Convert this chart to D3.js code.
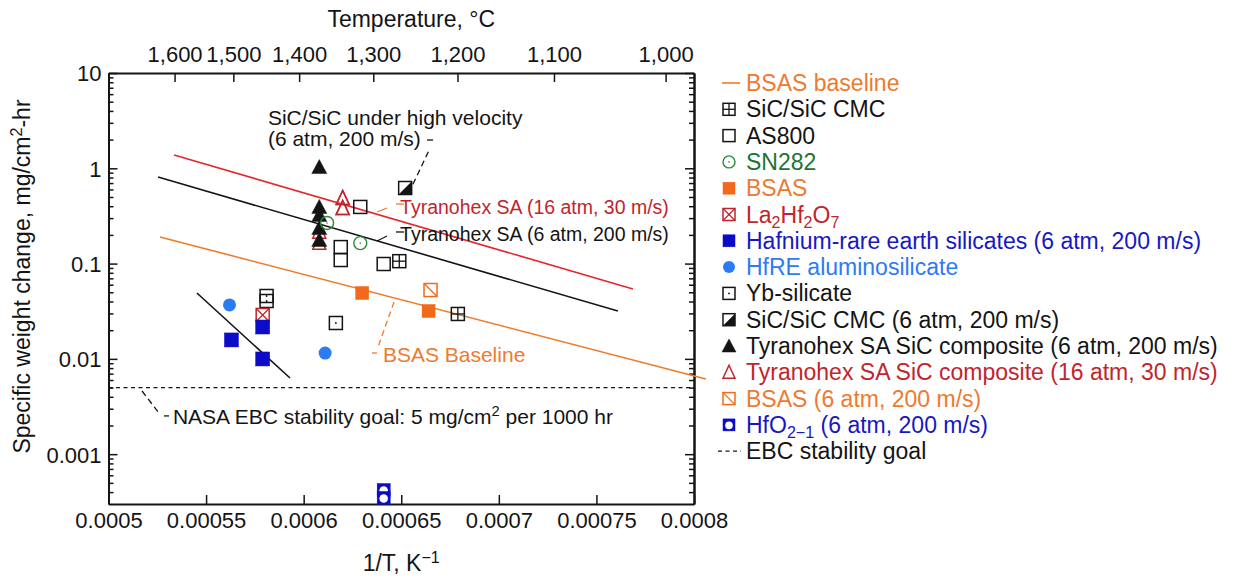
<!DOCTYPE html>
<html>
<head>
<meta charset="utf-8">
<script src="https://cdn.jsdelivr.net/npm/d3@7"></script>
<style>
  body { margin: 0; background: #fff; }
  svg { display: block; }
</style>
</head>
<body>
<svg id="chart" width="1250" height="578"></svg>
<script>
// ---------- axis ticks ----------
const xTicks = [0.0005, 0.00055, 0.0006, 0.00065, 0.0007, 0.00075, 0.0008];
const xTickLabels = ["0.0005", "0.00055", "0.0006", "0.00065", "0.0007", "0.00075", "0.0008"];
const yTicks = [10, 1, 0.1, 0.01, 0.001];
const yTickLabels = ["10", "1", "0.1", "0.01", "0.001"];
const tempTicks = [1600, 1500, 1400, 1300, 1200, 1100, 1000];
const tempTickLabels = ["1,600", "1,500", "1,400", "1,300", "1,200", "1,100", "1,000"];

// ---------- measured recession rates: [1/T (1/K), weight change (mg/cm2-hr)] ----------
const sicCmc = [[0.000649, 0.106], [0.000679, 0.0296]];
const as800 = [[0.000629, 0.393], [0.000619, 0.149], [0.000619, 0.109], [0.000641, 0.099]];
const sn282 = [[0.000612, 0.267], [0.000629, 0.164]];
const bsas = [[0.00063, 0.0491], [0.000664, 0.0318]];
const la2hf2o7 = [[0.000579, 0.0289]];
const hfReSilicates = [[0.000579, 0.0216], [0.000563, 0.0158], [0.000579, 0.00998]];
const hfReAluminosilicate = [[0.000562, 0.0368], [0.000611, 0.0115]];
const ybSilicate = [[0.000581, 0.0457], [0.000581, 0.0405], [0.0006165, 0.0238]];
const sicCmcHighVelocity = [[0.000652, 0.621]];
const tyranohex16atm = [[0.000608, 0.216], [0.000608, 0.165], [0.00062, 0.488], [0.00062, 0.383]];
const tyranohex6atm = [[0.000608, 1.03], [0.000608, 0.393], [0.000608, 0.324], [0.000608, 0.236], [0.000608, 0.177]];
const bsas6atm = [[0.000665, 0.0528]];
const hfo2 = [[0.000641, 0.00042], [0.000641, 0.000347]];

// ---------- fitted trend lines (end points) ----------
const bsasBaselineFit = [[0.0005264, 0.190], [0.0008061, 0.00615]];
const tyranohex16Fit = [[0.0005336, 1.379], [0.0007687, 0.0542]];
const tyranohex6Fit = [[0.0005254, 0.810], [0.0007610, 0.0318]];
const hfSilicateFit = [[0.0005453, 0.0491], [0.000593, 0.0063]];
const ebcGoal = 0.005;

// ---------- callouts ----------
const highVelocityText = ["SiC/SiC under high velocity", "(6 atm, 200 m/s)"];
const highVelocityAt = [[0.0005817, 2.847], [0.0005817, 1.714]];
const highVelocityLeader = [[[0.000656, 0.68], [0.0006647, 1.62]], [[0.0006632, 1.98], [0.0006663, 1.98]]];
const tyr16Label = "Tyranohex SA (16 atm, 30 m/s)";
const tyr16At = [0.0006494, 0.334];
const tyr16Leader = [[[0.0006376, 0.3477], [0.0006427, 0.383]], [[0.0006473, 0.4219], [0.0006514, 0.4219]]];
const tyr6Label = "Tyranohex SA (6 atm, 200 m/s)";
const tyr6At = [0.0006494, 0.1745];
const tyr6Leader = [[[0.0006376, 0.1726], [0.0006427, 0.1948]], [[0.0006473, 0.2146], [0.0006514, 0.2146]]];
const bsasLabel = "BSAS Baseline";
const bsasAt = [0.0006406, 0.00928];
const bsasLeader = [[[0.0006463, 0.03954], [0.0006381, 0.01334]], [[0.000635, 0.01153], [0.0006376, 0.01153]]];
const goalLabel = "NASA EBC stability goal: 5 mg/cm^{2} per 1000 hr";
const goalAt = [0.000533, 0.002075];
const goalLeader = [[[0.0005172, 0.0046], [0.0005254, 0.00277]], [[0.0005284, 0.00252], [0.000531, 0.00252]]];

// ---------- legend ----------
const legendLabels = [
  "BSAS baseline", "SiC/SiC CMC", "AS800", "SN282", "BSAS", "La_{2}Hf_{2}O_{7}",
  "Hafnium-rare earth silicates (6 atm, 200 m/s)", "HfRE aluminosilicate", "Yb-silicate",
  "SiC/SiC CMC (6 atm, 200 m/s)", "Tyranohex SA SiC composite (6 atm, 200 m/s)",
  "Tyranohex SA SiC composite (16 atm, 30 m/s)", "BSAS (6 atm, 200 m/s)",
  "HfO_{2\u22121} (6 atm, 200 m/s)", "EBC stability goal"
];
const legendSymbols = [
  "line", "plusSquare", "openSquare", "dotCircle", "bsasSquare", "xSquare",
  "blueSquare", "blueCircle", "dotSquare", "halfSquare", "filledTriangle",
  "openTriangle", "diagSquare", "hfo2", "dotted"
];

const C = {
  ink: "#141414",
  orange: "#F2691C",
  orangeText: "#EE7A2F",
  orangeLine: "#EF7B2C",
  red: "#E5262A",
  darkRed: "#C0252C",
  green: "#2A8A3C",
  greenText: "#1D7430",
  blue: "#0C0CC8",
  blueText: "#1717C4",
  skyBlue: "#2D7AF5"
};
const legendColors = [
  C.orangeText, C.ink, C.ink, C.greenText, C.orangeText, C.darkRed, C.blueText,
  C.skyBlue, C.ink, C.ink, C.ink, C.darkRed, C.orangeText, C.blueText, C.ink
];

// ---------- layout ----------
const FONT = '"Liberation Sans", Arial, Helvetica, sans-serif';
const svg = d3.select("#chart");
const x = d3.scaleLinear().domain([0.0005, 0.0008]).range([108.5, 694]);
const y = d3.scaleLog().domain([0.0003, 10]).range([504, 73]);
const [x0, x1] = x.range();
const [yB, yT] = y.range();

// minor log ticks 2..9 in each decade
const minorTicks = [];
for (let e = -4; e <= 0; e++) {
  for (let m = 2; m <= 9; m++) {
    const v = m * Math.pow(10, e);
    if (v > y.domain()[0] * 1.0001 && v < y.domain()[1]) minorTicks.push(+v.toPrecision(3));
  }
}

function styleAxis(g, fs) {
  g.attr("font-family", FONT).attr("font-size", fs);
  g.select(".domain").attr("stroke", C.ink).attr("stroke-width", 2);
  g.selectAll(".tick line").attr("stroke", C.ink).attr("stroke-width", 1.5);
  g.selectAll(".tick text").attr("fill", C.ink);
}

// bottom axis (1/T)
svg.append("g").attr("transform", `translate(0,${yB})`)
  .call(d3.axisBottom(x).tickValues(xTicks).tickFormat((d, i) => xTickLabels[i])
    .tickSize(-9).tickSizeOuter(0).tickPadding(8))
  .call(g => styleAxis(g, 22));

// top axis (temperature, deg C)
svg.append("g").attr("transform", `translate(0,${yT})`)
  .call(d3.axisTop(x).tickValues(tempTicks.map(t => 1 / (t + 273.15)))
    .tickFormat((d, i) => tempTickLabels[i]).tickSize(-9).tickSizeOuter(0).tickPadding(11))
  .call(g => styleAxis(g, 22));

// left axis
svg.append("g").attr("transform", `translate(${x0},0)`)
  .call(d3.axisLeft(y).tickValues(yTicks).tickFormat((d, i) => yTickLabels[i])
    .tickSize(-9).tickSizeOuter(0).tickPadding(7))
  .call(g => styleAxis(g, 22))
  .call(g => g.selectAll(".tick text").attr("dy", "0.36em"));
svg.append("g").attr("transform", `translate(${x0},0)`)
  .call(d3.axisLeft(y).tickValues(minorTicks).tickFormat("").tickSize(-5).tickSizeOuter(0))
  .call(g => styleAxis(g, 22));

// right axis
svg.append("g").attr("transform", `translate(${x1},0)`)
  .call(d3.axisRight(y).tickValues(yTicks).tickFormat("").tickSize(-9).tickSizeOuter(0))
  .call(g => styleAxis(g, 22));
svg.append("g").attr("transform", `translate(${x1},0)`)
  .call(d3.axisRight(y).tickValues(minorTicks).tickFormat("").tickSize(-5).tickSizeOuter(0))
  .call(g => styleAxis(g, 22));

// ---------- rich text helper (_{sub} and ^{sup}) ----------
function richText(sel, str, fs) {
  const parts = str.split(/(_\{[^}]*\}|\^\{[^}]*\})/).filter(s => s.length);
  let shift = 0;
  parts.forEach(p => {
    let size = fs, txt = p, target = 0;
    if (p.startsWith("_{")) { target = fs * 0.24; size = fs * 0.7; txt = p.slice(2, -1); }
    else if (p.startsWith("^{")) { target = -fs * 0.36; size = fs * 0.7; txt = p.slice(2, -1); }
    const dy = target - shift; shift = target;
    sel.append("tspan").attr("dy", dy).attr("font-size", size).text(txt);
  });
}

// ---------- axis titles ----------
svg.append("text").attr("x", (x0 + x1) / 2 + 10).attr("y", 27)
  .attr("text-anchor", "middle").attr("font-family", FONT).attr("font-size", 23)
  .attr("fill", C.ink).text("Temperature, \u00B0C");

svg.append("text").attr("x", (x0 + x1) / 2).attr("y", 571)
  .attr("text-anchor", "middle").attr("font-family", FONT).attr("font-size", 23)
  .attr("fill", C.ink).call(t => richText(t, "1/T, K^{\u22121}", 23));

svg.append("text").attr("transform", `translate(30,${(yT + yB) / 2 - 12}) rotate(-90)`)
  .attr("text-anchor", "middle").attr("font-family", FONT).attr("font-size", 23)
  .attr("fill", C.ink).call(t => richText(t, "Specific weight change, mg/cm^{2}-hr", 23));

// ---------- trend lines ----------
const line = d3.line().x(d => x(d[0])).y(d => y(d[1]));
const plot = svg.append("g");
plot.append("path").datum(tyranohex16Fit).attr("d", line).attr("stroke", C.red).attr("stroke-width", 1.6).attr("fill", "none");
plot.append("path").datum(tyranohex6Fit).attr("d", line).attr("stroke", C.ink).attr("stroke-width", 1.6).attr("fill", "none");
plot.append("path").datum(bsasBaselineFit).attr("d", line).attr("stroke", C.orangeLine).attr("stroke-width", 1.6).attr("fill", "none");
plot.append("path").datum(hfSilicateFit).attr("d", line).attr("stroke", C.ink).attr("stroke-width", 1.6).attr("fill", "none");
plot.append("line").attr("x1", x0).attr("x2", x1).attr("y1", y(ebcGoal)).attr("y2", y(ebcGoal))
  .attr("stroke", C.ink).attr("stroke-width", 1.3).attr("stroke-dasharray", "4,3.5");

// ---------- marker shapes ----------
function marker(g, type, cx, cy, s = 13) {
  const h = s / 2;
  const sq = (stroke, fill, sw = 1.5) => g.append("rect").attr("x", cx - h).attr("y", cy - h)
    .attr("width", s).attr("height", s).attr("fill", fill).attr("stroke", stroke).attr("stroke-width", sw);
  const seg = (ax, ay, bx, by, stroke, sw = 1.3) => g.append("line").attr("x1", ax).attr("y1", ay)
    .attr("x2", bx).attr("y2", by).attr("stroke", stroke).attr("stroke-width", sw);
  switch (type) {
    case "plusSquare":
      sq(C.ink, "none");
      seg(cx, cy - h, cx, cy + h, C.ink); seg(cx - h, cy, cx + h, cy, C.ink); break;
    case "openSquare": sq(C.ink, "none"); break;
    case "dotSquare":
      sq(C.ink, "none");
      g.append("circle").attr("cx", cx).attr("cy", cy).attr("r", 0.9).attr("fill", C.ink); break;
    case "dotCircle":
      g.append("circle").attr("cx", cx).attr("cy", cy).attr("r", h).attr("fill", "none")
        .attr("stroke", C.green).attr("stroke-width", 1.4);
      g.append("circle").attr("cx", cx).attr("cy", cy).attr("r", 0.8).attr("fill", C.green); break;
    case "bsasSquare": sq(C.orange, C.orange, 0.5); break;
    case "xSquare":
      sq(C.darkRed, "none");
      seg(cx - h, cy - h, cx + h, cy + h, C.darkRed); seg(cx - h, cy + h, cx + h, cy - h, C.darkRed); break;
    case "blueSquare": sq(C.blue, C.blue, 0.5); break;
    case "blueCircle":
      g.append("circle").attr("cx", cx).attr("cy", cy).attr("r", h).attr("fill", C.skyBlue); break;
    case "halfSquare":
      sq(C.ink, "#fff");
      g.append("path").attr("d", `M${cx + h},${cy - h}L${cx + h},${cy + h}L${cx - h},${cy + h}Z`).attr("fill", C.ink); break;
    case "filledTriangle":
      g.append("path").attr("d", `M${cx},${cy - h - 1}L${cx + h + 1},${cy + h}L${cx - h - 1},${cy + h}Z`)
        .attr("fill", C.ink).attr("stroke", C.ink).attr("stroke-width", 0.5); break;
    case "openTriangle":
      g.append("path").attr("d", `M${cx},${cy - h - 1}L${cx + h},${cy + h}L${cx - h},${cy + h}Z`)
        .attr("fill", "none").attr("stroke", C.darkRed).attr("stroke-width", 1.5); break;
    case "diagSquare":
      sq(C.orange, "none");
      seg(cx - h, cy - h, cx + h, cy + h, C.orange); break;
    case "hfo2":
      sq(C.blue, C.blue, 0.5);
      g.append("circle").attr("cx", cx).attr("cy", cy + 0.5).attr("r", h - 2.2).attr("fill", "#fff"); break;
  }
}

const seriesDraw = [
  [tyranohex16atm, "openTriangle"],
  [tyranohex6atm, "filledTriangle"],
  [as800, "openSquare"],
  [sn282, "dotCircle"],
  [sicCmc, "plusSquare"],
  [bsas, "bsasSquare"],
  [bsas6atm, "diagSquare"],
  [ybSilicate, "dotSquare"],
  [la2hf2o7, "xSquare"],
  [hfReSilicates, "blueSquare"],
  [hfReAluminosilicate, "blueCircle"],
  [sicCmcHighVelocity, "halfSquare"],
  [hfo2, "hfo2"]
];
seriesDraw.forEach(([data, type]) => {
  const g = plot.append("g");
  data.forEach(d => marker(g, type, x(d[0]), y(d[1]), type === "blueSquare" ? 14 : 13));
});
// open triangles drawn again on top where they are not covered
tyranohex16atm.slice(2).forEach(d => marker(plot, "openTriangle", x(d[0]), y(d[1])));

// ---------- callouts ----------
function leader(parts, color, dashed) {
  parts.forEach(p => plot.append("path").datum(p).attr("d", line).attr("stroke", color)
    .attr("stroke-width", 1.3).attr("fill", "none").attr("stroke-dasharray", dashed ? "6,4" : null));
}
const note = (at, str, color, fs) => plot.append("text").attr("x", x(at[0])).attr("y", y(at[1]))
  .attr("font-family", FONT).attr("font-size", fs).attr("fill", color).call(t => richText(t, str, fs));

highVelocityText.forEach((s, i) => note(highVelocityAt[i], s, C.ink, 21));
leader(highVelocityLeader.slice(0, 1), C.ink, true);
leader(highVelocityLeader.slice(1), C.ink, false);

note(tyr16At, tyr16Label, C.darkRed, 19.5);
leader(tyr16Leader, C.orangeLine, false);

note(tyr6At, tyr6Label, C.ink, 19.5);
leader(tyr6Leader, C.ink, false);

note(bsasAt, bsasLabel, C.orangeText, 21);
leader(bsasLeader.slice(0, 1), C.orangeLine, true);
leader(bsasLeader.slice(1), C.orangeLine, false);

note(goalAt, goalLabel, C.ink, 21);
leader(goalLeader.slice(0, 1), C.ink, true);
leader(goalLeader.slice(1), C.ink, false);

// ---------- legend ----------
const legend = svg.append("g");
const lgX = 729, lgTextX = 746, lgY0 = 83, lgStep = 26.3;
legendLabels.forEach((lab, i) => {
  const cy = lgY0 + i * lgStep;
  const sym = legendSymbols[i];
  if (sym === "line") {
    legend.append("line").attr("x1", lgX - 7).attr("x2", lgX + 11).attr("y1", cy).attr("y2", cy)
      .attr("stroke", C.orangeLine).attr("stroke-width", 1.6);
  } else if (sym === "dotted") {
    legend.append("line").attr("x1", lgX - 11).attr("x2", lgX + 12).attr("y1", cy).attr("y2", cy)
      .attr("stroke", C.ink).attr("stroke-width", 1.3).attr("stroke-dasharray", "4,3.5");
  } else {
    marker(legend, sym, lgX, cy, 12);
  }
  legend.append("text").attr("x", lgTextX).attr("y", cy + 8)
    .attr("font-family", FONT).attr("font-size", 23).attr("fill", legendColors[i])
    .call(t => richText(t, lab, 23));
});
</script>
</body>
</html>
